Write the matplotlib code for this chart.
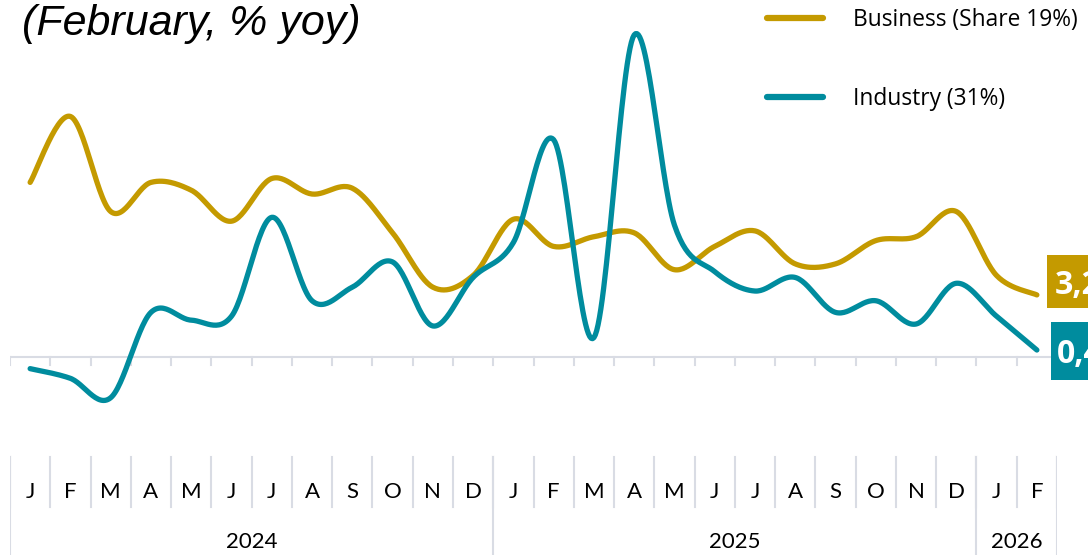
import numpy as np
import matplotlib
matplotlib.use("Agg")
import matplotlib.pyplot as plt
import matplotlib.transforms as mtransforms
from matplotlib.patches import Rectangle

# ---------------- data ----------------
months = ["J", "F", "M", "A", "M", "J", "J", "A", "S", "O", "N", "D",
          "J", "F", "M", "A", "M", "J", "J", "A", "S", "O", "N", "D",
          "J", "F"]
years = ["2024", "2025", "2026"]
year_counts = [12, 12, 2]

business = [9.0, 12.4, 7.5, 9.0, 8.6, 7.0, 9.2, 8.4, 8.7, 6.4, 3.6, 4.2,
            7.1, 5.7, 6.2, 6.4, 4.5, 5.7, 6.5, 4.8, 4.8, 6.0, 6.2, 7.5,
            4.2, 3.2]
industry = [-0.6, -1.1, -2.1, 2.3, 1.9, 2.1, 7.2, 2.9, 3.6, 4.9, 1.6, 4.1,
            5.9, 11.2, 1.0, 16.6, 6.8, 4.4, 3.4, 4.1, 2.3, 2.9, 1.7, 3.8,
            2.1, 0.36]
series_names = ["Business (Share 19%)", "Industry (31%)"]
title = "(February, % yoy)"

GOLD = "#C49A00"
TEAL = "#008C9E"
GRID = "#D9DCE4"

W, H = 1088, 555
fig = plt.figure(figsize=(W / 100, H / 100), dpi=100)

PX_PER_UNIT = 19.4
ZERO_PX = 357
AX_TOP, AX_BOT = 0, 455
left_px, right_px = 10, 1057

ax = fig.add_axes([left_px / W, (H - AX_BOT) / H, (right_px - left_px) / W, (AX_BOT - AX_TOP) / H])
n = len(months)
ax.set_xlim(-0.5, n - 0.5)
ax.set_ylim(-(AX_BOT - ZERO_PX) / PX_PER_UNIT, (ZERO_PX - AX_TOP) / PX_PER_UNIT)
ax.axis("off")


def smooth(xs, ys, steps=30):
    xs = np.asarray(xs, float)
    ys = np.asarray(ys, float)
    P = np.column_stack([xs, ys])
    P = np.vstack([P[0], P, P[-1]])
    out = []
    for i in range(1, len(P) - 2):
        p0, p1, p2, p3 = P[i - 1], P[i], P[i + 1], P[i + 2]
        c1 = p1 + (p2 - p0) / 6.0
        c2 = p2 - (p3 - p1) / 6.0
        t = np.linspace(0, 1, steps)[:, None]
        seg = ((1 - t) ** 3) * p1 + 3 * ((1 - t) ** 2) * t * c1 + 3 * (1 - t) * t ** 2 * c2 + t ** 3 * p2
        out.append(seg if i == 1 else seg[1:])
    out = np.vstack(out)
    return out[:, 0], out[:, 1]


x = np.arange(n)
# zero line with ticks
ax.plot([-0.5, n - 0.5], [0, 0], color=GRID, lw=1.5, zorder=1, solid_capstyle="butt")
tick_len = 8 / PX_PER_UNIT
for b in np.arange(-0.5, n, 1.0):
    ax.plot([b, b], [0, -tick_len], color=GRID, lw=1.5, zorder=1)

for vals, col, name in [(business, GOLD, series_names[0]), (industry, TEAL, series_names[1])]:
    sx, sy = smooth(x, vals)
    ax.plot(sx, sy, color=col, lw=3.8, solid_capstyle="round", zorder=3, label=name)


# end labels: boxes placed in pixel offsets from the last data point
def end_label(val, col, box, text_off):
    trans = mtransforms.IdentityTransform() + mtransforms.ScaledTranslation(x[-1], val, ax.transData)
    bx, by, bw, bh = box
    ax.add_patch(Rectangle((bx, by), bw, bh, transform=trans, facecolor=col,
                           edgecolor="none", zorder=4, clip_on=False))
    ax.text(text_off[0], text_off[1], f"{val:.1f}".replace(".", ","), transform=trans,
            color="white", fontsize=23, fontweight="bold", family="Open Sans",
            ha="left", va="baseline", zorder=5, clip_on=False)


end_label(business[-1], GOLD, (10, -13, 120, 53), (18, 1))
end_label(industry[-1], TEAL, (14, -30, 120, 58), (20, -13))

# legend
leg = ax.legend(loc="upper left", bbox_to_anchor=(767 / W, 1 - 8 / H), bbox_transform=fig.transFigure,
                frameon=False, borderpad=0, borderaxespad=0, handlelength=2.45, handletextpad=1.33,
                labelspacing=2.4, prop=dict(family="Open Sans", size=16.4))
for h in leg.get_lines():
    h.set_linewidth(4.5)
    h.set_solid_capstyle("round")

# title (cropped at top)
fig.text(22 / W, 1 - 35 / H, title, fontsize=31, style="italic", family="Liberation Sans",
         ha="left", va="baseline", color="black")

# category axis
ax2 = fig.add_axes([left_px / W, 0, (right_px - left_px) / W, (H - AX_BOT) / H])
ax2.set_xlim(-0.5, n - 0.5)
ax2.set_ylim(0, H - AX_BOT)
ax2.axis("off")
for b in np.arange(-0.5, n, 1.0):
    ax2.plot([b, b], [H - 457, H - 507], color=GRID, lw=1.5)
start = 0
bounds = [-0.5]
for cnt in year_counts:
    start += cnt
    bounds.append(start - 0.5)
for b in bounds:
    ax2.plot([b, b], [H - 457, 0], color=GRID, lw=1.5)
for i, m in enumerate(months):
    ax2.text(i, H - 492, m, ha="center", va="center", fontsize=16, family="Lato", color="black")
for k, yname in enumerate(years):
    c = (bounds[k] + bounds[k + 1]) / 2
    ax2.text(c, H - 542, yname, ha="center", va="center", fontsize=16, family="Lato", color="black")

fig.savefig("out.png", dpi=100)
